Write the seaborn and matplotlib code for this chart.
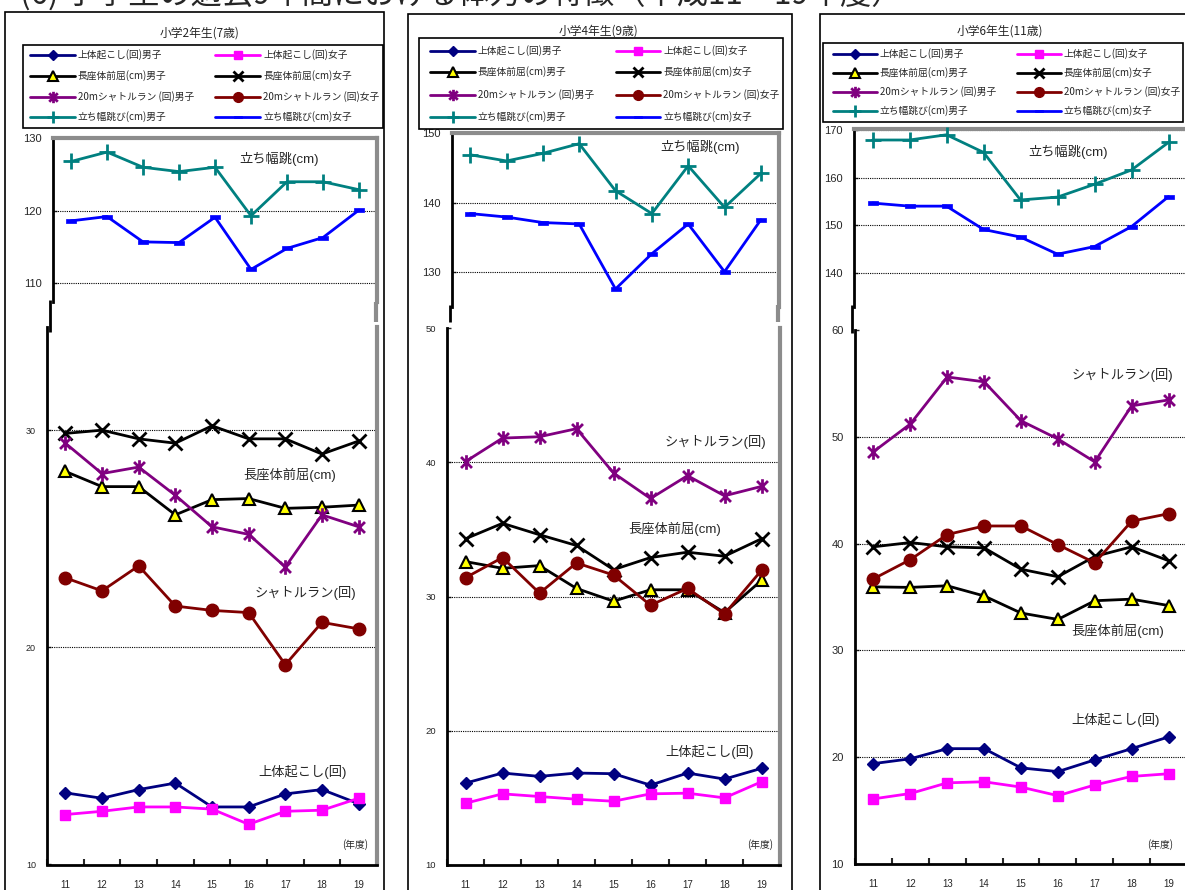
import numpy as np
import pandas as pd
import matplotlib
matplotlib.use("Agg")
import matplotlib.pyplot as plt
from matplotlib.lines import Line2D
from matplotlib.patches import Rectangle
from matplotlib.path import Path
import seaborn as sns

# ---------------------------------------------------------------- data
years = [11, 12, 13, 14, 15, 16, 17, 18, 19]
year_labels = ["11", "12", "13", "14", "15", "16", "17", "18", "19"]

series_keys = ["situp_m", "situp_f", "reach_m", "reach_f",
               "shuttle_m", "shuttle_f", "jump_m", "jump_f"]
series_labels = ["上体起こし(回)男子", "上体起こし(回)女子",
                 "長座体前屈(cm)男子", "長座体前屈(cm)女子",
                 "20mシャトルラン (回)男子", "20mシャトルラン (回)女子",
                 "立ち幅跳び(cm)男子", "立ち幅跳び(cm)女子"]

panel_titles = ["小学2年生(7歳)", "小学4年生(9歳)", "小学6年生(11歳)"]

# 小学2年生
g2_situp_m = [13.3, 13.05, 13.45, 13.75, 12.65, 12.65, 13.25, 13.45, 12.8]
g2_situp_f = [12.3, 12.45, 12.65, 12.65, 12.55, 11.85, 12.45, 12.5, 13.05]
g2_reach_m = [28.1, 27.4, 27.4, 26.1, 26.8, 26.85, 26.4, 26.45, 26.55]
g2_reach_f = [29.85, 30.0, 29.6, 29.4, 30.2, 29.6, 29.6, 28.9, 29.5]
g2_shuttle_m = [29.4, 28.0, 28.3, 27.0, 25.55, 25.2, 23.7, 26.1, 25.55]
g2_shuttle_f = [23.2, 22.6, 23.75, 21.9, 21.7, 21.6, 19.2, 21.15, 20.85]
g2_jump_m = [126.8, 128.1, 126.0, 125.4, 126.0, 119.3, 124.0, 124.0, 122.9]
g2_jump_f = [118.6, 119.2, 115.7, 115.6, 119.1, 111.9, 114.8, 116.3, 120.1]

# 小学4年生
g4_situp_m = [16.1, 16.85, 16.6, 16.85, 16.8, 15.95, 16.85, 16.4, 17.2]
g4_situp_f = [14.6, 15.3, 15.1, 14.9, 14.75, 15.3, 15.35, 15.0, 16.2]
g4_reach_m = [32.6, 32.1, 32.3, 30.6, 29.65, 30.5, 30.5, 28.8, 31.2]
g4_reach_f = [34.3, 35.45, 34.6, 33.8, 32.0, 32.9, 33.3, 33.0, 34.3]
g4_shuttle_m = [40.05, 41.8, 41.9, 42.5, 39.2, 37.3, 39.0, 37.5, 38.2]
g4_shuttle_f = [31.4, 32.9, 30.25, 32.5, 31.6, 29.35, 30.6, 28.7, 31.95]
g4_jump_m = [146.9, 146.0, 147.1, 148.5, 141.7, 138.4, 145.3, 139.3, 144.2]
g4_jump_f = [138.4, 137.9, 137.1, 136.9, 127.5, 132.6, 136.9, 130.0, 137.5]

# 小学6年生
g6_situp_m = [19.4, 19.85, 20.8, 20.8, 19.0, 18.65, 19.75, 20.8, 21.9]
g6_situp_f = [16.1, 16.6, 17.6, 17.7, 17.2, 16.4, 17.4, 18.2, 18.45]
g6_reach_m = [35.95, 35.9, 36.05, 35.1, 33.5, 32.9, 34.65, 34.8, 34.2]
g6_reach_f = [39.7, 40.1, 39.7, 39.6, 37.6, 36.9, 38.8, 39.7, 38.4]
g6_shuttle_m = [48.6, 51.2, 55.6, 55.15, 51.5, 49.8, 47.65, 52.9, 53.45]
g6_shuttle_f = [36.7, 38.5, 40.85, 41.65, 41.65, 39.9, 38.2, 42.1, 42.8]
g6_jump_m = [167.9, 167.9, 169.0, 165.3, 155.3, 155.9, 158.6, 161.6, 167.4]
g6_jump_f = [154.65, 154.0, 154.0, 149.1, 147.5, 143.9, 145.5, 149.7, 156.0]

grade_series = [
    [g2_situp_m, g2_situp_f, g2_reach_m, g2_reach_f,
     g2_shuttle_m, g2_shuttle_f, g2_jump_m, g2_jump_f],
    [g4_situp_m, g4_situp_f, g4_reach_m, g4_reach_f,
     g4_shuttle_m, g4_shuttle_f, g4_jump_m, g4_jump_f],
    [g6_situp_m, g6_situp_f, g6_reach_m, g6_reach_f,
     g6_shuttle_m, g6_shuttle_f, g6_jump_m, g6_jump_f],
]

# ---------------------------------------------------------------- style
sns.set_style("white")
plt.rcParams["font.family"] = ["Liberation Sans", "Noto Sans CJK JP"]
JP = ["Noto Sans CJK JP", "DejaVu Sans"]

W, H = 1185, 890
fig = plt.figure(figsize=(W / 100, H / 100), dpi=100)


def fx(x):
    return x / W


def fy(y):
    return 1 - y / H


def rect(x0, x1, y0, y1):
    return [x0 / W, 1 - y1 / H, (x1 - x0) / W, (y1 - y0) / H]


def seg(x0, y0, x1, y1, color, lw):
    fig.add_artist(Line2D([fx(x0), fx(x1)], [fy(y0), fy(y1)],
                          transform=fig.transFigure, color=color, linewidth=lw,
                          solid_capstyle="butt"))


# asterisk (vertical bar + X) and short bar markers
star_marker = Path([(0, -1), (0, 1), (-0.75, -0.75), (0.75, 0.75),
                    (-0.75, 0.75), (0.75, -0.75)],
                   [Path.MOVETO, Path.LINETO, Path.MOVETO, Path.LINETO,
                    Path.MOVETO, Path.LINETO])
bar_marker = [(-1.25, -0.45), (1.25, -0.45), (1.25, 0.45), (-1.25, 0.45),
              (-1.25, -0.45)]

NAVY, MAGENTA, PURPLE, DRED, TEAL, BLUE = (
    "#000080", "#FF00FF", "#800080", "#800000", "#008080", "#0000FF")

styles = {
    "situp_m": dict(color=NAVY, marker="D", markersize=6.3,
                    markerfacecolor=NAVY, markeredgecolor=NAVY, markeredgewidth=1),
    "situp_f": dict(color=MAGENTA, marker="s", markersize=7.5,
                    markerfacecolor=MAGENTA, markeredgecolor=MAGENTA, markeredgewidth=1),
    "reach_m": dict(color="black", marker="^", markersize=8.5,
                    markerfacecolor="#FFFF00", markeredgecolor="black", markeredgewidth=1.5),
    "reach_f": dict(color="black", marker="x", markersize=10,
                    markerfacecolor="none", markeredgecolor="black", markeredgewidth=2),
    "shuttle_m": dict(color=PURPLE, marker=star_marker, markersize=10.5,
                      markerfacecolor="none", markeredgecolor=PURPLE, markeredgewidth=2),
    "shuttle_f": dict(color=DRED, marker="o", markersize=9,
                      markerfacecolor=DRED, markeredgecolor=DRED, markeredgewidth=1),
    "jump_m": dict(color=TEAL, marker="+", markersize=11.5,
                   markerfacecolor="none", markeredgecolor=TEAL, markeredgewidth=2),
    "jump_f": dict(color=BLUE, marker=bar_marker, markersize=7.5,
                   markerfacecolor=BLUE, markeredgecolor=BLUE, markeredgewidth=0.5),
}

GRAY = "#8c8c8c"

# panel layout (pixel coordinates)
panels = [
    dict(frame=(5, 12, 384), title=(200, 33), legend=(23, 45, 383, 128),
         leg_rows=(55, 76, 97, 117), leg_cols=((30, 75, 78), (215, 260, 263)),
         top=(53, 377, 138.3, 302), top_ylim=(107.4, 130), top_ticks=[110, 120, 130],
         bot=(47, 377, 327, 864.5), bot_ylim=(10, 34.75), bot_ticks=[10, 20, 30],
         top_fs=8, bot_fs=6.5,
         bridge=[((50, 300, 50, 332), "black", 2), ((375.5, 302, 375.5, 322), GRAY, 3)],
         notes=[((279, 159), "立ち幅跳(cm)"), ((290, 475), "長座体前屈(cm)"),
                ((305, 593), "シャトルラン(回)"), ((303, 772), "上体起こし(回)")],
         year_note=(355, 845)),
    dict(frame=(408, 14, 792), title=(598, 31), legend=(419, 38, 783, 129),
         leg_rows=(51, 72, 95, 117), leg_cols=((430, 475, 478), (616, 660, 663)),
         top=(452, 779, 133.3, 307), top_ylim=(124.9, 150), top_ticks=[130, 140, 150],
         bot=(447, 780, 328, 865), bot_ylim=(10, 50), bot_ticks=[10, 20, 30, 40, 50],
         top_fs=8, bot_fs=6.8,
         bridge=[((450, 305, 450, 322), "black", 2), ((777.5, 305, 777.5, 322), GRAY, 3)],
         notes=[((700, 147), "立ち幅跳(cm)"), ((715, 442), "シャトルラン(回)"),
                ((675, 529), "長座体前屈(cm)"), ((710, 752), "上体起こし(回)")],
         year_note=(760, 845)),
    dict(frame=(820, 14, 1195), title=(1000, 31), legend=(823, 43, 1183, 122),
         leg_rows=(54, 73, 92, 111), leg_cols=((833, 877, 880), (1017, 1061, 1064)),
         top=(854, 1187, 129.3, 307), top_ylim=(132.8, 170.15), top_ticks=[140, 150, 160, 170],
         bot=(855, 1187, 330, 864), bot_ylim=(10, 60), bot_ticks=[10, 20, 30, 40, 50, 60],
         top_fs=8, bot_fs=8,
         bridge=[((852, 305, 852, 333), "black", 2)],
         notes=[((1068, 152), "立ち幅跳(cm)"), ((1122, 375), "シャトルラン(回)"),
                ((1118, 631), "長座体前屈(cm)"), ((1116, 720), "上体起こし(回)")],
         year_note=(1160, 845)),
]


def base_axes(ax, ylim, yticks, fs):
    ax.set_xlim(10.5, 19.5)
    ax.set_ylim(*ylim)
    ax.set_yticks(yticks)
    ax.set_yticklabels([str(t) for t in yticks])
    ax.tick_params(axis="y", direction="in", length=3, width=1, pad=8,
                   labelsize=fs, left=True)
    ax.grid(False)
    # dotted reference lines at the interior ticks only
    for t in yticks:
        if ylim[0] < t < ylim[1] - 1e-6:
            ax.axhline(t, linestyle=(0, (1, 1)), color="black", linewidth=0.8,
                       zorder=1)
    ax.spines["left"].set(color="black", linewidth=2)
    ax.spines["right"].set(color=GRAY, linewidth=3)
    ax.set_xlabel("")
    ax.set_ylabel("")
    ax.patch.set_alpha(0)


for gi, (p, values) in enumerate(zip(panels, grade_series)):
    df = pd.DataFrame({
        "年度": years * len(series_keys),
        "値": np.concatenate(values),
        "種目": np.repeat(series_keys, len(years)),
    })

    ax_top = fig.add_axes(rect(*p["top"]))
    ax_bot = fig.add_axes(rect(*p["bot"]))

    for key in series_keys:
        target = ax_top if key.startswith("jump") else ax_bot
        sns.lineplot(data=df[df["種目"] == key], x="年度", y="値", ax=target,
                     linewidth=2, clip_on=False, zorder=4, legend=False,
                     **styles[key])

    base_axes(ax_top, p["top_ylim"], p["top_ticks"], p["top_fs"])
    ax_top.set_xticks([])
    ax_top.spines["bottom"].set_visible(False)
    ax_top.spines["top"].set(color=GRAY, linewidth=3)

    base_axes(ax_bot, p["bot_ylim"], p["bot_ticks"], p["bot_fs"])
    ax_bot.spines["top"].set_visible(False)
    ax_bot.spines["bottom"].set(color="black", linewidth=2)
    ax_bot.set_xticks(np.arange(10.5, 20, 1))
    ax_bot.set_xticklabels([])
    ax_bot.set_xticks(years, minor=True)
    ax_bot.set_xticklabels(year_labels, minor=True)
    ax_bot.tick_params(axis="x", which="major", direction="in", length=4,
                       width=1.5, bottom=True)
    ax_bot.tick_params(axis="x", which="minor", length=0, pad=11,
                       labelsize=7, bottom=True)

    # short joints between the upper and lower plot areas
    for (x0, y0, x1, y1), col, lw in p["bridge"]:
        seg(x0, y0, x1, y1, col, lw)

    # outer frame of the panel
    fx0, fy0, fx1 = p["frame"]
    fig.add_artist(Rectangle((fx(fx0), fy(H + 20)), fx(fx1) - fx(fx0),
                             fy(fy0) - fy(H + 20), transform=fig.transFigure,
                             fill=False, edgecolor="black", linewidth=1.2))
    fig.text(fx(p["title"][0]), fy(p["title"][1]), panel_titles[gi],
             ha="center", va="center", fontsize=8.5, family=JP)

    # legend box
    lx0, ly0, lx1, ly1 = p["legend"]
    fig.add_artist(Rectangle((fx(lx0), fy(ly1)), fx(lx1) - fx(lx0),
                             fy(ly0) - fy(ly1), transform=fig.transFigure,
                             facecolor="white", edgecolor="black", linewidth=1.2))
    for i, (key, label) in enumerate(zip(series_keys, series_labels)):
        r, c = divmod(i, 2)
        hx0, hx1, tx = p["leg_cols"][c]
        yy = fy(p["leg_rows"][r])
        st = dict(styles[key])
        st["markersize"] = st["markersize"] * 0.78
        line = Line2D([fx(hx0), fx((hx0 + hx1) / 2), fx(hx1)], [yy, yy, yy],
                      transform=fig.transFigure, linewidth=2, markevery=[1], **st)
        fig.add_artist(line)
        fig.text(fx(tx), yy, label, ha="left", va="center", fontsize=7,
                 family=JP)

    # series labels inside the plots
    for (nx, ny), txt in p["notes"]:
        fig.text(fx(nx), fy(ny), txt, ha="center", va="center", fontsize=9.5)
    fig.text(fx(p["year_note"][0]), fy(p["year_note"][1]), "(年度)",
             ha="center", va="center", fontsize=7, family=JP)

fig.text(fx(20), fy(5), "(6) 小学生の過去9年間における体力の特徴（平成11～19年度）",
         ha="left", va="baseline", fontsize=22.5, family=JP)

fig.savefig("out.png", dpi=100, facecolor="white")
